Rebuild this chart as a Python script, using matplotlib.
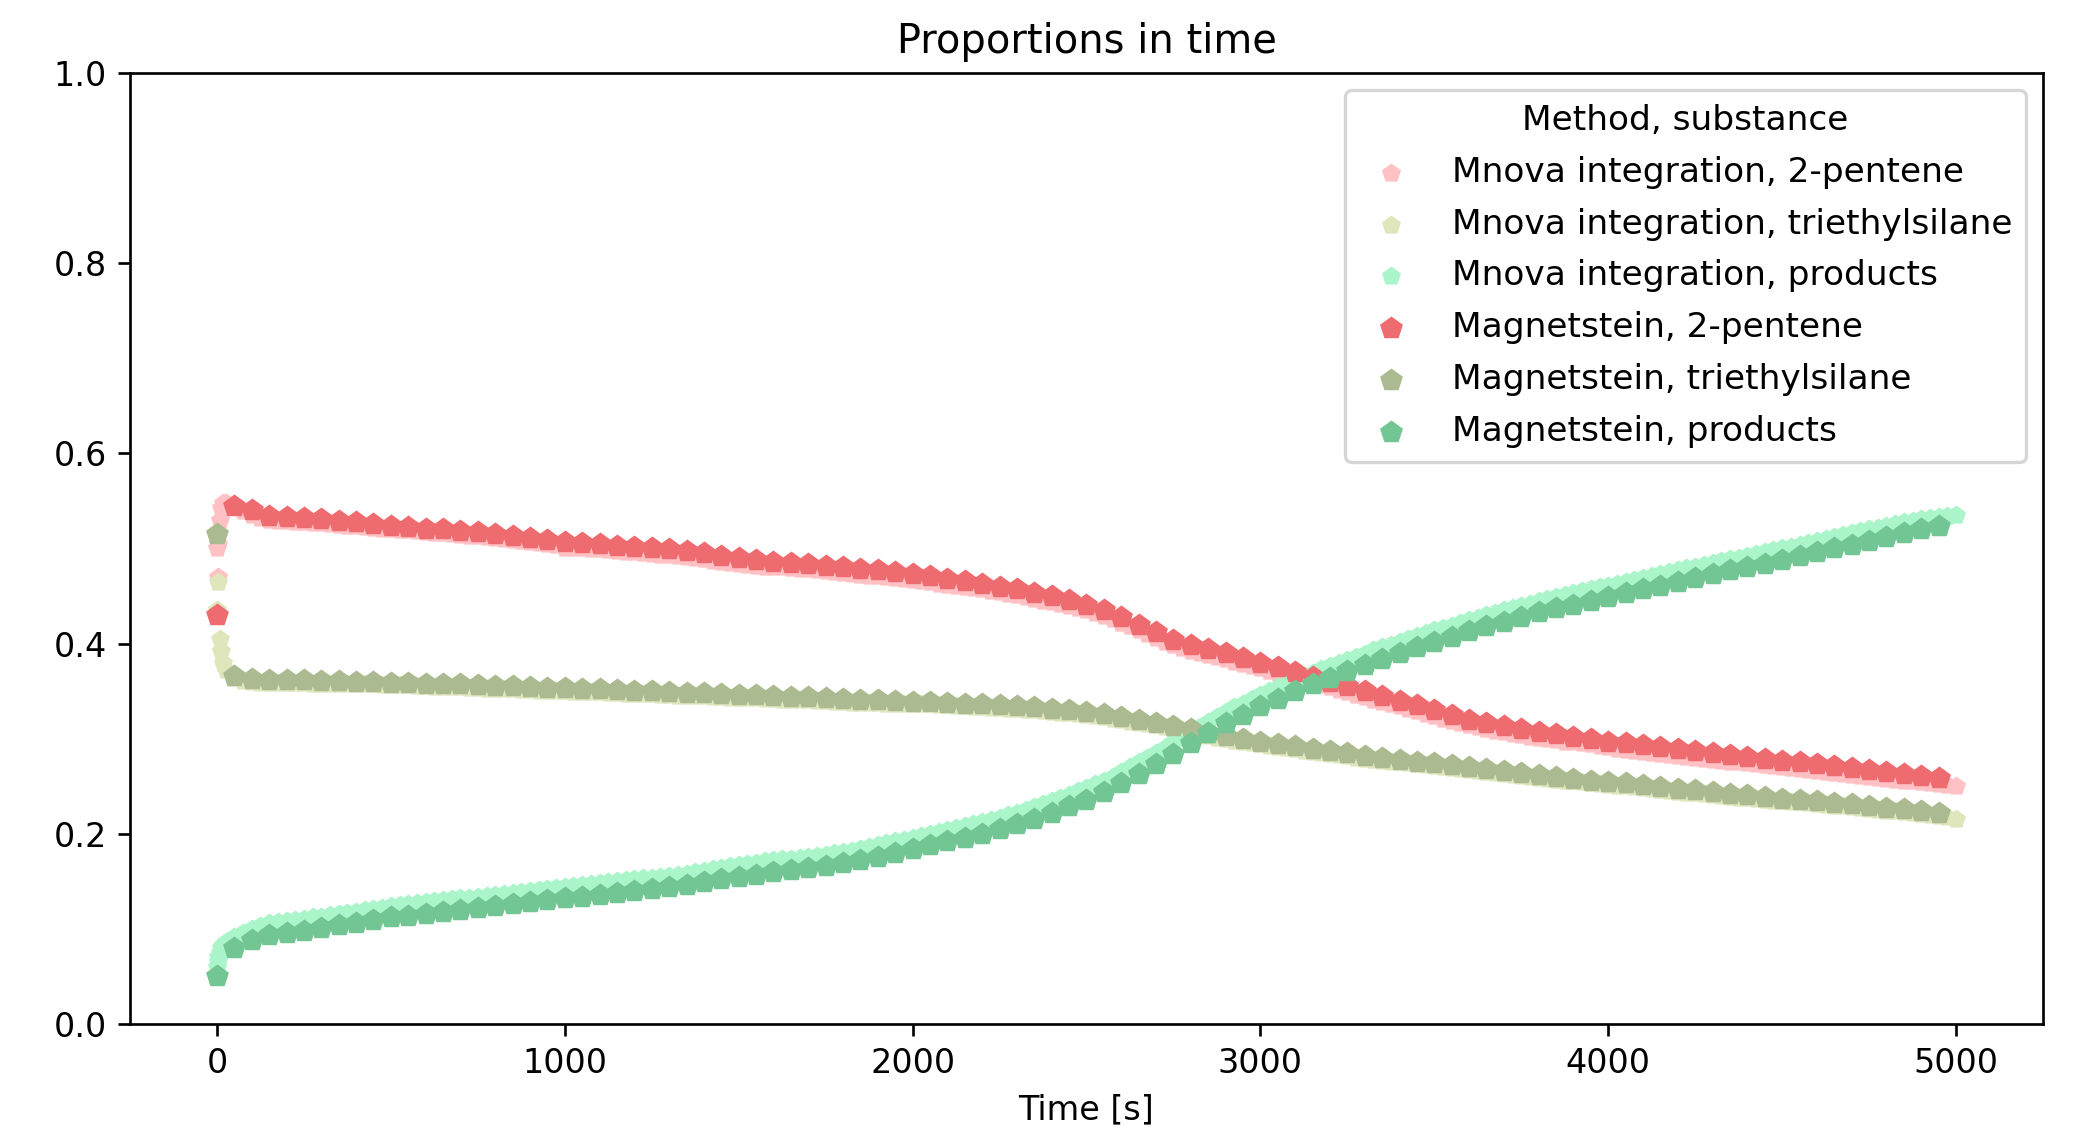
import numpy as np
import matplotlib
matplotlib.use("Agg")
import matplotlib.pyplot as plt

# ---------------- data ----------------
# Magnetstein estimates, one spectrum every 50 s
magnet_time = list(range(0, 4951, 50))
magnet_pentene = [
    0.430, 0.545, 0.540, 0.534, 0.533, 0.532, 0.531, 0.529, 0.528, 0.526,
    0.524, 0.523, 0.521, 0.520, 0.518, 0.517, 0.515, 0.513, 0.511, 0.509,
    0.507, 0.506, 0.505, 0.503, 0.502, 0.500, 0.499, 0.497, 0.495, 0.492,
    0.490, 0.488, 0.486, 0.485, 0.484, 0.482, 0.480, 0.478, 0.477, 0.475,
    0.473, 0.471, 0.468, 0.466, 0.463, 0.460, 0.457, 0.453, 0.450, 0.446,
    0.441, 0.435, 0.428, 0.420, 0.412, 0.404, 0.398, 0.394, 0.390, 0.385,
    0.380, 0.375, 0.370, 0.365, 0.360, 0.355, 0.350, 0.345, 0.340, 0.335,
    0.330, 0.325, 0.320, 0.316, 0.313, 0.310, 0.307, 0.305, 0.302, 0.300,
    0.297, 0.295, 0.293, 0.291, 0.289, 0.287, 0.285, 0.283, 0.281, 0.279,
    0.277, 0.275, 0.273, 0.271, 0.269, 0.267, 0.265, 0.263, 0.261, 0.259,
]
magnet_silane = [
    0.515, 0.366, 0.363, 0.362, 0.362, 0.362, 0.361, 0.361, 0.360, 0.360,
    0.359, 0.359, 0.358, 0.357, 0.357, 0.356, 0.355, 0.355, 0.354, 0.353,
    0.353, 0.352, 0.352, 0.351, 0.350, 0.350, 0.349, 0.348, 0.348, 0.347,
    0.346, 0.346, 0.345, 0.344, 0.344, 0.343, 0.342, 0.341, 0.341, 0.340,
    0.339, 0.339, 0.338, 0.337, 0.336, 0.335, 0.334, 0.333, 0.331, 0.330,
    0.328, 0.326, 0.323, 0.320, 0.317, 0.313, 0.310, 0.306, 0.303, 0.300,
    0.297, 0.294, 0.292, 0.289, 0.287, 0.285, 0.282, 0.280, 0.278, 0.276,
    0.274, 0.272, 0.270, 0.268, 0.266, 0.264, 0.262, 0.260, 0.258, 0.256,
    0.254, 0.253, 0.251, 0.249, 0.247, 0.246, 0.244, 0.242, 0.241, 0.239,
    0.237, 0.236, 0.234, 0.232, 0.231, 0.229, 0.227, 0.226, 0.224, 0.222,
]
magnet_products = [
    0.050, 0.080, 0.088, 0.094, 0.096, 0.098, 0.101, 0.104, 0.106, 0.109,
    0.112, 0.114, 0.116, 0.118, 0.120, 0.122, 0.124, 0.126, 0.128, 0.130,
    0.132, 0.134, 0.136, 0.138, 0.140, 0.142, 0.144, 0.146, 0.149, 0.152,
    0.155, 0.157, 0.160, 0.162, 0.164, 0.166, 0.169, 0.172, 0.176, 0.180,
    0.184, 0.188, 0.192, 0.196, 0.200, 0.205, 0.210, 0.216, 0.222, 0.229,
    0.236, 0.244, 0.253, 0.263, 0.273, 0.284, 0.295, 0.306, 0.316, 0.325,
    0.334, 0.342, 0.350, 0.357, 0.364, 0.371, 0.377, 0.384, 0.390, 0.396,
    0.402, 0.407, 0.413, 0.418, 0.423, 0.428, 0.433, 0.437, 0.441, 0.445,
    0.449, 0.453, 0.457, 0.461, 0.465, 0.469, 0.473, 0.477, 0.480, 0.484,
    0.488, 0.492, 0.496, 0.500, 0.504, 0.508, 0.512, 0.516, 0.520, 0.524,
]

# Mnova integration: a few early spectra, then one every 25 s
mnova_time = [0, 2, 4, 8, 12, 18] + list(range(25, 5001, 25))
mnova_pentene = [
    0.500, 0.470, 0.505, 0.530, 0.543, 0.548,
    0.548, 0.545, 0.539, 0.535, 0.532, 0.530, 0.529, 0.529,
    0.528, 0.528, 0.527, 0.527, 0.526, 0.525, 0.524, 0.524,
    0.523, 0.522, 0.521, 0.520, 0.519, 0.519, 0.518, 0.517,
    0.516, 0.516, 0.515, 0.514, 0.513, 0.513, 0.512, 0.511,
    0.510, 0.509, 0.508, 0.507, 0.506, 0.505, 0.504, 0.501,
    0.500, 0.500, 0.499, 0.499, 0.498, 0.497, 0.496, 0.496,
    0.495, 0.494, 0.493, 0.493, 0.492, 0.491, 0.490, 0.489,
    0.487, 0.486, 0.485, 0.484, 0.483, 0.482, 0.481, 0.480,
    0.480, 0.479, 0.478, 0.478, 0.477, 0.476, 0.475, 0.474,
    0.473, 0.472, 0.471, 0.471, 0.470, 0.469, 0.468, 0.467,
    0.466, 0.465, 0.463, 0.462, 0.461, 0.460, 0.458, 0.457,
    0.455, 0.454, 0.452, 0.451, 0.449, 0.447, 0.445, 0.444,
    0.442, 0.440, 0.437, 0.435, 0.432, 0.429, 0.426, 0.422,
    0.418, 0.414, 0.410, 0.406, 0.402, 0.398, 0.395, 0.392,
    0.390, 0.388, 0.386, 0.384, 0.381, 0.379, 0.376, 0.374,
    0.371, 0.369, 0.366, 0.364, 0.361, 0.359, 0.356, 0.354,
    0.351, 0.349, 0.346, 0.344, 0.341, 0.339, 0.336, 0.334,
    0.331, 0.329, 0.326, 0.324, 0.321, 0.319, 0.316, 0.314,
    0.312, 0.310, 0.308, 0.307, 0.305, 0.304, 0.302, 0.301,
    0.300, 0.299, 0.297, 0.296, 0.295, 0.294, 0.292, 0.291,
    0.289, 0.288, 0.287, 0.286, 0.285, 0.284, 0.283, 0.282,
    0.281, 0.280, 0.279, 0.278, 0.277, 0.276, 0.275, 0.274,
    0.273, 0.272, 0.271, 0.270, 0.269, 0.268, 0.267, 0.266,
    0.265, 0.264, 0.263, 0.262, 0.261, 0.260, 0.259, 0.258,
    0.257, 0.256, 0.255, 0.254, 0.253, 0.252, 0.251, 0.250,
]
mnova_silane = [
    0.435, 0.465, 0.430, 0.405, 0.392, 0.380,
    0.372, 0.364, 0.361, 0.360, 0.359, 0.359, 0.359, 0.359,
    0.359, 0.359, 0.358, 0.358, 0.358, 0.358, 0.357, 0.357,
    0.357, 0.357, 0.356, 0.356, 0.356, 0.356, 0.355, 0.355,
    0.354, 0.354, 0.354, 0.354, 0.353, 0.353, 0.352, 0.352,
    0.352, 0.352, 0.351, 0.351, 0.350, 0.350, 0.350, 0.350,
    0.349, 0.349, 0.349, 0.349, 0.348, 0.348, 0.347, 0.347,
    0.347, 0.347, 0.346, 0.346, 0.345, 0.345, 0.345, 0.345,
    0.344, 0.344, 0.343, 0.343, 0.343, 0.343, 0.342, 0.342,
    0.341, 0.341, 0.341, 0.341, 0.340, 0.340, 0.339, 0.339,
    0.338, 0.338, 0.338, 0.338, 0.337, 0.337, 0.336, 0.336,
    0.336, 0.336, 0.335, 0.335, 0.334, 0.334, 0.333, 0.333,
    0.332, 0.332, 0.331, 0.331, 0.330, 0.330, 0.329, 0.328,
    0.327, 0.327, 0.326, 0.325, 0.324, 0.323, 0.321, 0.320,
    0.318, 0.317, 0.315, 0.314, 0.312, 0.310, 0.308, 0.307,
    0.305, 0.303, 0.301, 0.300, 0.298, 0.297, 0.295, 0.294,
    0.292, 0.291, 0.290, 0.289, 0.287, 0.286, 0.285, 0.284,
    0.283, 0.282, 0.280, 0.279, 0.278, 0.277, 0.276, 0.275,
    0.274, 0.273, 0.272, 0.271, 0.270, 0.269, 0.268, 0.267,
    0.266, 0.265, 0.264, 0.263, 0.262, 0.261, 0.260, 0.259,
    0.258, 0.257, 0.256, 0.255, 0.254, 0.253, 0.252, 0.251,
    0.250, 0.250, 0.249, 0.248, 0.247, 0.246, 0.245, 0.244,
    0.243, 0.243, 0.242, 0.241, 0.240, 0.239, 0.238, 0.238,
    0.237, 0.236, 0.235, 0.234, 0.233, 0.233, 0.232, 0.231,
    0.230, 0.229, 0.229, 0.228, 0.227, 0.226, 0.225, 0.224,
    0.224, 0.223, 0.222, 0.221, 0.220, 0.219, 0.218, 0.216,
]
mnova_products = [
    0.060, 0.065, 0.070, 0.075, 0.080, 0.083,
    0.086, 0.092, 0.096, 0.100, 0.103, 0.106, 0.107, 0.108,
    0.109, 0.110, 0.112, 0.113, 0.115, 0.116, 0.117, 0.118,
    0.120, 0.121, 0.122, 0.124, 0.125, 0.126, 0.127, 0.128,
    0.129, 0.130, 0.131, 0.132, 0.133, 0.134, 0.135, 0.136,
    0.137, 0.138, 0.139, 0.140, 0.141, 0.142, 0.143, 0.144,
    0.145, 0.146, 0.147, 0.148, 0.149, 0.150, 0.151, 0.152,
    0.153, 0.154, 0.155, 0.156, 0.157, 0.158, 0.160, 0.161,
    0.163, 0.164, 0.166, 0.167, 0.168, 0.169, 0.171, 0.172,
    0.173, 0.174, 0.175, 0.176, 0.177, 0.178, 0.180, 0.181,
    0.182, 0.184, 0.186, 0.188, 0.190, 0.192, 0.194, 0.196,
    0.198, 0.200, 0.202, 0.204, 0.206, 0.208, 0.210, 0.212,
    0.215, 0.217, 0.220, 0.222, 0.225, 0.228, 0.231, 0.234,
    0.238, 0.241, 0.245, 0.248, 0.252, 0.256, 0.260, 0.265,
    0.270, 0.275, 0.280, 0.285, 0.290, 0.296, 0.301, 0.307,
    0.312, 0.318, 0.323, 0.328, 0.333, 0.337, 0.342, 0.346,
    0.350, 0.354, 0.358, 0.362, 0.366, 0.369, 0.373, 0.376,
    0.380, 0.383, 0.386, 0.389, 0.393, 0.396, 0.399, 0.402,
    0.405, 0.408, 0.411, 0.414, 0.416, 0.419, 0.422, 0.425,
    0.427, 0.430, 0.432, 0.435, 0.437, 0.440, 0.442, 0.445,
    0.447, 0.449, 0.451, 0.453, 0.455, 0.457, 0.459, 0.461,
    0.463, 0.465, 0.467, 0.469, 0.471, 0.473, 0.475, 0.477,
    0.479, 0.481, 0.483, 0.485, 0.487, 0.489, 0.490, 0.492,
    0.494, 0.496, 0.498, 0.500, 0.502, 0.504, 0.506, 0.508,
    0.510, 0.512, 0.514, 0.516, 0.518, 0.520, 0.522, 0.524,
    0.526, 0.528, 0.529, 0.531, 0.532, 0.533, 0.534, 0.535,
]

series = [
    ("Mnova integration, 2-pentene", mnova_time, mnova_pentene, "#ffc1c4", 36),
    ("Mnova integration, triethylsilane", mnova_time, mnova_silane, "#dfe6bc", 36),
    ("Mnova integration, products", mnova_time, mnova_products, "#aaf5ca", 36),
    ("Magnetstein, 2-pentene", magnet_time, magnet_pentene, "#ee6b70", 52),
    ("Magnetstein, triethylsilane", magnet_time, magnet_silane, "#abba90", 52),
    ("Magnetstein, products", magnet_time, magnet_products, "#72c694", 52),
]

# ---------------- figure ----------------
plt.rcParams["font.family"] = ["DejaVu Sans"]
plt.rcParams["font.size"] = 10

fig = plt.figure(figsize=(2080 / 240, 1131 / 240), dpi=240)
ax = fig.add_axes([0.0625, 0.0946, 0.9197, 0.8409])

for label, t, v, color, size in series:
    ax.scatter(t, v, s=size, marker="p", color=color, linewidths=0, label=label)

ax.set_ylim(0, 1.0)
ax.set_title("Proportions in time", fontsize=12)
ax.set_xlabel("Time [s]")
ax.legend(title="Method, substance", loc="upper right", fontsize=10.3,
          title_fontsize=10.3, handletextpad=0.85, handlelength=1.85,
          labelspacing=0.55)

fig.savefig("out.png", dpi=240)
